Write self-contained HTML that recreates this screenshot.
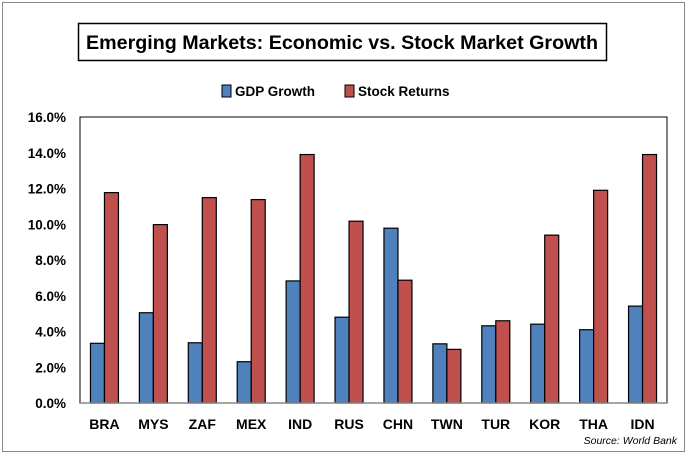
<!DOCTYPE html>
<html><head><meta charset="utf-8"><style>
body{margin:0;background:#fff;width:689px;height:455px;overflow:hidden;font-family:"Liberation Sans",sans-serif}
</style></head><body>
<svg width="689" height="455" xmlns="http://www.w3.org/2000/svg">
<rect x="2.5" y="2.5" width="682" height="449" fill="#fff" stroke="#888"/>
<rect x="78.5" y="23.5" width="528" height="37" fill="#fff" stroke="#000" stroke-width="1.5"/>
<text x="342" y="49" text-anchor="middle" font-size="19.5" font-weight="bold" textLength="512" lengthAdjust="spacingAndGlyphs">Emerging Markets: Economic vs. Stock Market Growth</text>
<g id="legend">
<rect x="222" y="85" width="9" height="12" fill="#4f81bd" stroke="#000"/>
<text x="235" y="96" font-size="13.5" font-weight="bold">GDP Growth</text>
<rect x="345" y="85" width="9" height="12" fill="#c0504d" stroke="#000"/>
<text x="358" y="96" font-size="13.5" font-weight="bold">Stock Returns</text>
</g>
<g id="plot"></g>
<text x="677" y="444" text-anchor="end" font-size="10.5" font-style="italic">Source: World Bank</text>
</svg>
<script>
const categories=["BRA","MYS","ZAF","MEX","IND","RUS","CHN","TWN","TUR","KOR","THA","IDN"];
const gdpGrowth=[3.34,5.05,3.37,2.31,6.83,4.8,9.78,3.31,4.32,4.41,4.1,5.42];
const stockReturns=[11.77,9.98,11.49,11.38,13.9,10.17,6.87,3.0,4.6,9.39,11.9,13.9];
const yTicks=[0,2,4,6,8,10,12,14,16];
const NS="http://www.w3.org/2000/svg";
const L=80,R=667,T=117,B=403,yMax=16;
const y=v=>B-(v/yMax)*(B-T);
const bw=(R-L)/categories.length;
const x=i=>L+bw*i+bw/2;
const g=document.getElementById('plot');
function mk(t,a){const e=document.createElementNS(NS,t);for(const k in a)e.setAttribute(k,a[k]);g.appendChild(e);return e;}
let fr=mk('rect',{x:L,y:T,width:R-L,height:B-T,fill:'none',stroke:'#000'});


yTicks.forEach(v=>{
 const t=mk('text',{x:66,y:y(v)+5,'text-anchor':'end','font-size':13.5,'font-weight':'bold'});
 t.textContent=v.toFixed(1)+'%';
 
 
});
const w=14;
categories.forEach((c,i)=>{
 const cx=x(i);
 const b1=mk('rect',{x:cx-w,y:y(gdpGrowth[i]),width:w,height:B-y(gdpGrowth[i]),fill:'#4f81bd',stroke:'#000','stroke-width':1.2});
 
 
 const b2=mk('rect',{x:cx,y:y(stockReturns[i]),width:w,height:B-y(stockReturns[i]),fill:'#c0504d',stroke:'#000','stroke-width':1.2});
 
 
 const t=mk('text',{x:cx,y:429,'text-anchor':'middle','font-size':14,'font-weight':'bold'});
 t.textContent=c;
 
 
});
let ax=mk('line',{x1:L,y1:B,x2:R,y2:B,stroke:'#888','stroke-width':1.5});


</script>
</body></html>
